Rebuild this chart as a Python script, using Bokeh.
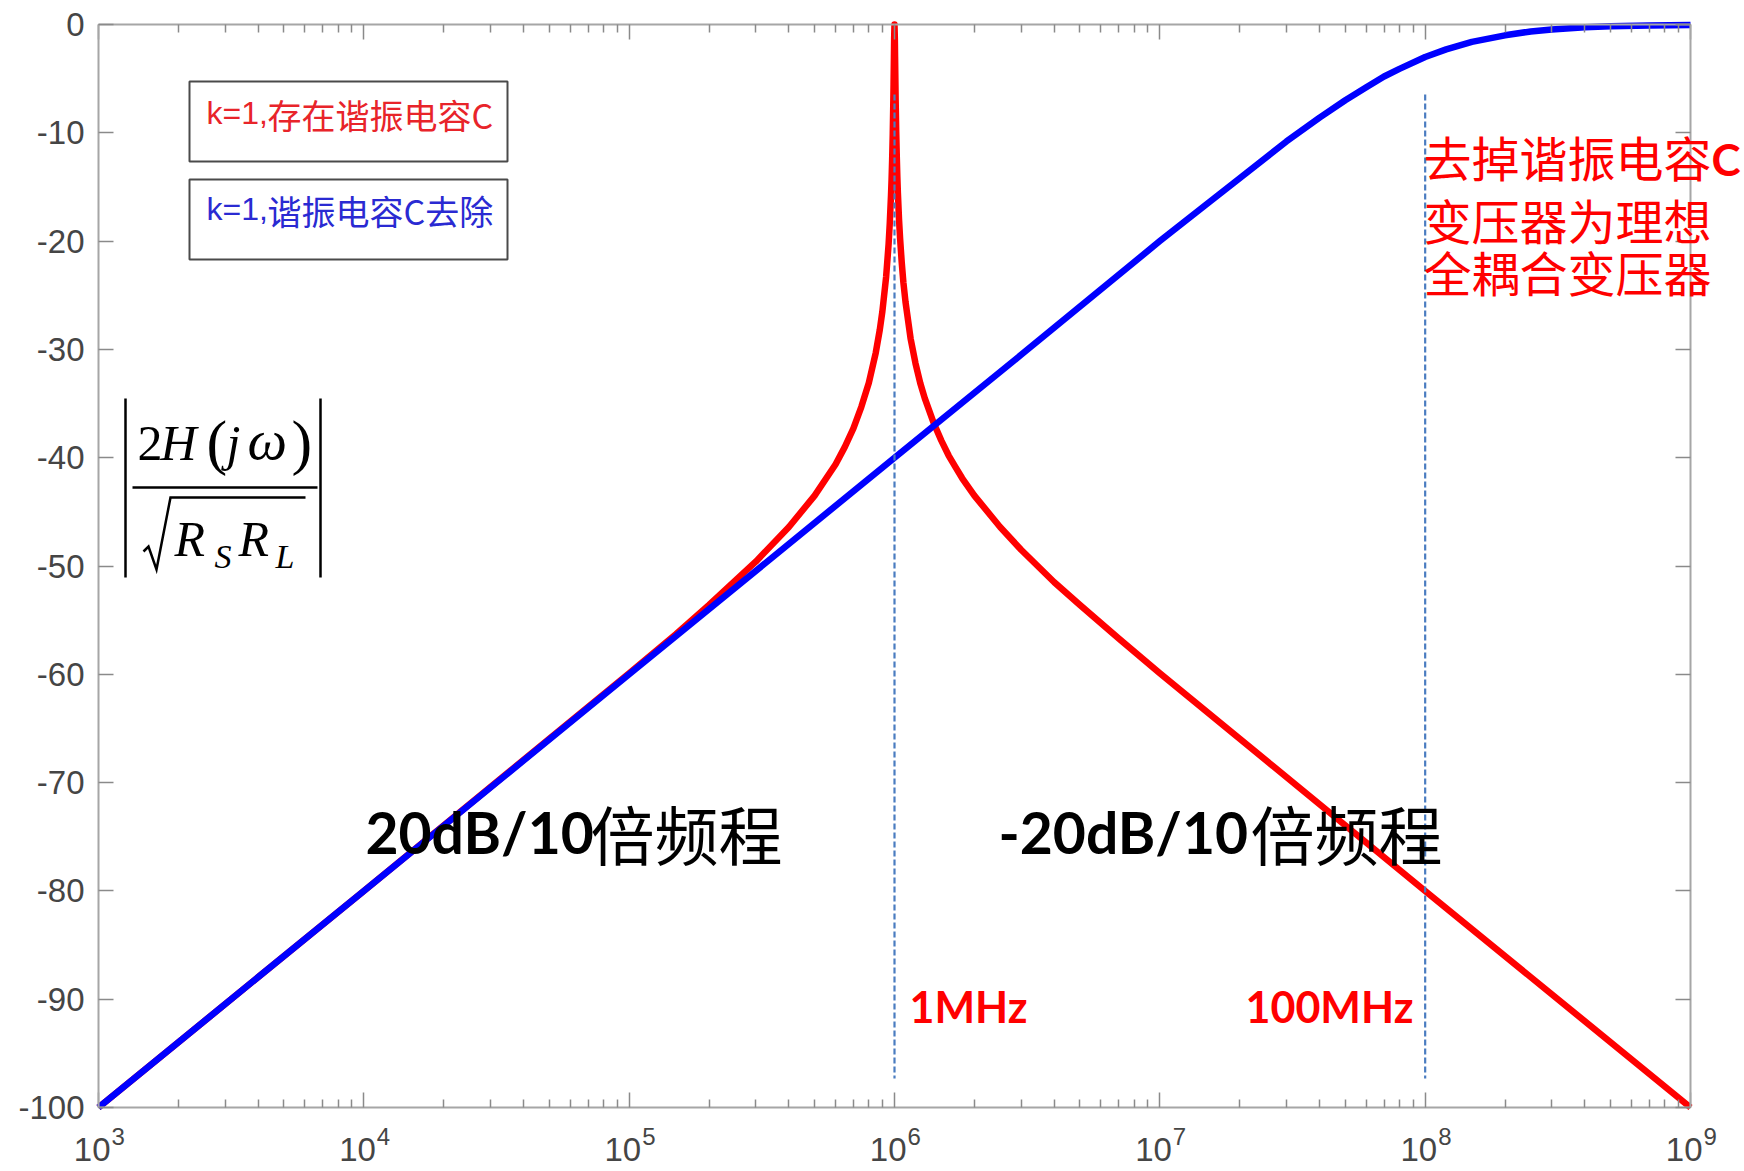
from bokeh.plotting import figure
from bokeh.models import Label, LogAxis, LinearAxis, FixedTicker, Range1d
from bokeh.embed import file_html
from bokeh.resources import INLINE

# |2H(jw)/sqrt(Rs*Rl)| in dB versus frequency (Hz)
# k=1 with the resonant capacitor present
red_freq = [1e3, 1e4, 1e5, 1.5e5, 2e5, 3e5, 4e5, 5e5, 6e5, 6.5e5, 7e5, 7.5e5, 8e5,
            8.5e5, 8.8e5, 9e5, 9.3e5, 9.5e5, 9.6e5, 9.7e5, 9.75e5, 9.8e5, 9.85e5,
            9.9e5, 9.92e5, 9.95e5, 9.97e5, 1e6, 1.003e6, 1.005e6, 1.008e6, 1.01e6,
            1.015e6, 1.02e6, 1.025e6, 1.03e6, 1.04e6, 1.05e6, 1.065e6, 1.08e6,
            1.1e6, 1.15e6, 1.2e6, 1.25e6, 1.3e6, 1.4e6, 1.5e6, 1.6e6, 1.7e6,
            1.8e6, 2e6, 2.5e6, 3e6, 4e6, 5e6, 7e6, 1e7, 1e8, 1e9]
red_db = [-100.0, -80.0, -59.9, -56.3, -53.6, -49.6, -46.4, -43.5, -40.6, -39.0,
          -37.3, -35.3, -33.1, -30.3, -28.2, -26.5, -23.3, -20.3, -18.3, -15.8,
          -14.3, -12.4, -10.1, -7.0, -5.5, -3.0, -1.3, 0.0, -1.3, -3.0, -5.5,
          -7.0, -9.9, -12.2, -14.1, -15.6, -18.0, -19.8, -22.0, -23.8, -25.6,
          -29.0, -31.3, -33.1, -34.5, -36.7, -38.4, -39.8, -40.9, -41.9, -43.5,
          -46.4, -48.5, -51.5, -53.6, -56.7, -59.9, -80.0, -100.0]

# k=1 with the resonant capacitor removed
blue_freq = [1e3, 1e4, 1e5, 1e6, 3e6, 1e7, 1.5e7, 2e7, 3e7, 4e7, 5e7, 6e7, 7e7,
             8e7, 1e8, 1.2e8, 1.5e8, 2e8, 2.5e8, 3e8, 4e8, 5e8, 7e8, 1e9]
blue_db = [-100.0, -80.0, -60.0, -40.0, -30.5, -20.0, -16.6, -14.2, -10.8, -8.6,
           -7.0, -5.8, -4.8, -4.1, -3.0, -2.3, -1.6, -1.0, -0.64, -0.46, -0.26,
           -0.17, -0.09, -0.04]

marker_freq = [1e6, 1e8]
marker_text = ["1MHz", "100MHz"]
y_ticks = list(range(-100, 1, 10))
x_decades = [3, 4, 5, 6, 7, 8, 9]
legend_lead = ["k=1,", "k=1,"]
legend_rest = ["存在谐振电容C", "谐振电容C去除"]
legend_color = ["#e8242a", "#2a2ad2"]
note_lines = ["去掉谐振电容", "变压器为理想", "全耦合变压器"]
slope_text = [("20dB/10", "倍频程"), ("-20dB/10", "倍频程")]

W, H = 1744, 1171
FL, FR, FT, FB = 98, 1690, 24, 1107   # axes box edges in page pixels


def px_x(px):
    return 10 ** (3 + 6 * (px - FL) / (FR - FL))


def px_y(py):
    return -100 * (py - FT) / (FB - FT)


# the drawing frame spans the whole page; the axes sit inside it
p = figure(width=W, height=H, x_axis_type="log",
           x_range=Range1d(px_x(0), px_x(W)), y_range=Range1d(px_y(H), px_y(0)),
           output_backend="svg", toolbar_location=None,
           min_border_left=0, min_border_right=0,
           min_border_top=0, min_border_bottom=0)
p.grid.visible = False
p.background_fill_color = "white"
p.border_fill_color = "white"
p.outline_line_color = None

x_major = [10 ** d for d in x_decades]
x_minor = [m * 10 ** d for d in x_decades[:-1] for m in range(2, 10)]
AX = "#a6a6a6"
TK = "#8a8a8a"


def style_axis(ax, show_labels=False):
    ax.axis_line_color = AX
    ax.axis_line_width = 2
    ax.major_tick_line_color = TK
    ax.major_tick_line_width = 1.5
    ax.major_tick_in = 15
    ax.major_tick_out = 0
    ax.minor_tick_line_color = TK
    ax.minor_tick_line_width = 1.5
    ax.minor_tick_in = 8
    ax.minor_tick_out = 0
    if not show_labels:
        ax.major_label_text_font_size = "6px"
        ax.major_label_text_alpha = 0
        ax.major_label_standoff = 0


xb = p.xaxis[0]
xb.ticker = FixedTicker(ticks=x_major, minor_ticks=x_minor)
xb.fixed_location = -100
xb.bounds = (1e3, 1e9)
style_axis(xb)

yl = p.yaxis[0]
yl.ticker = FixedTicker(ticks=y_ticks)
yl.fixed_location = 1e3
yl.bounds = (-100, 0)
style_axis(yl, show_labels=True)
yl.major_label_overrides = {v: str(v) for v in y_ticks}
yl.major_label_text_font = "Liberation Sans"
yl.major_label_text_font_size = "33px"
yl.major_label_text_color = "#454545"
yl.major_label_standoff = 14

xt = LogAxis(ticker=FixedTicker(ticks=x_major, minor_ticks=x_minor),
             fixed_location=0, bounds=(1e3, 1e9))
style_axis(xt)
p.add_layout(xt, "above")

yr = LinearAxis(ticker=FixedTicker(ticks=y_ticks), fixed_location=1e9,
                bounds=(-100, 0))
style_axis(yr)
p.add_layout(yr, "right")


def label(text, xp, base, size, color="black", font="Liberation Sans",
          style="normal", **kw):
    # place text by its left edge and baseline, in page pixels
    p.add_layout(Label(x=px_x(xp), y=px_y(base - 0.47 * size), text=text,
                       text_font=font, text_font_style=style,
                       text_font_size=f"{size}px", text_color=color,
                       text_baseline="alphabetic", **kw))


# x tick labels as 10 with a raised exponent
for d in x_decades:
    p.add_layout(Label(x=10 ** d, y=px_y(1165 - 0.47 * 33), x_offset=12,
                       text="10", text_align="right", text_baseline="alphabetic",
                       text_font="Liberation Sans", text_font_size="33px",
                       text_color="#454545"))
    p.add_layout(Label(x=10 ** d, y=px_y(1147 - 0.47 * 24), x_offset=13,
                       text=str(d), text_align="left", text_baseline="alphabetic",
                       text_font="Liberation Sans", text_font_size="24px",
                       text_color="#454545"))

# response curves
p.line(red_freq, red_db, line_color="#ff0000", line_width=6.5, line_join="round")
p.line(blue_freq, blue_db, line_color="#0000ff", line_width=6.5, line_join="round")

# frequency markers
p.segment(x0=marker_freq, x1=marker_freq, y0=[px_y(94)] * 2, y1=[px_y(1078)] * 2,
          line_color="#4a7cc0", line_width=2.2, line_dash="6 3")
for t, xp in zip(marker_text, [909, 1245]):
    label(t, xp, 1026, 43, color="#ff0000", font="Lato", style="bold")

# legend boxes
box_top = [81, 179]
box_bot = [161, 259]
p.quad(left=[px_x(189)] * 2, right=[px_x(507)] * 2,
       top=[px_y(v) for v in box_top], bottom=[px_y(v) for v in box_bot],
       fill_color="white", line_color="#4a4a4a", line_width=2)
for lead, rest, c, base in zip(legend_lead, legend_rest, legend_color, [128, 224]):
    label(lead, 206, base, 32, color=c)
    label(rest, 267, base + 2, 34, color=c, font="Noto Sans CJK SC")

# slope annotations
for (num, cjk), xn, xc in zip(slope_text, [365, 998], [590, 1250]):
    label(num, xn, 858, 57, font="Lato", style="bold")
    label(cjk, xc, 862, 64, font="Noto Sans CJK SC")

# note beside the 100 MHz marker
for line, base in zip(note_lines, [178, 241, 293]):
    label(line, 1423, base, 48, color="#ff0000", font="Noto Sans CJK SC")
label("C", 1711, 179, 44, color="#ff0000", font="Lato", style="bold")


# magnitude expression |2H(jw) / sqrt(Rs Rl)|
def serif(text, xp, base, size, italic=True):
    label(text, xp, base, size, font="Liberation Serif",
          style="italic" if italic else "normal")


serif("2", 137, 466, 50, italic=False)
serif("H", 160, 466, 50)
serif("(", 206, 471, 62, italic=False)
serif("j", 226, 466, 50)
serif("ω", 247, 466, 56)
serif(")", 291, 471, 62, italic=False)
serif("R", 174, 562, 50)
serif("S", 214, 572, 34)
serif("R", 238, 562, 50)
serif("L", 275, 572, 34)
p.segment(x0=[px_x(132), px_x(125), px_x(320)], x1=[px_x(317), px_x(125), px_x(320)],
          y0=[px_y(487), px_y(398), px_y(398)], y1=[px_y(487), px_y(577), px_y(577)],
          line_color="black", line_width=2.5)
rad_x = [143, 148, 156, 170, 305]
rad_y = [551, 546, 569, 497, 497]
p.line([px_x(v) for v in rad_x], [px_y(v) for v in rad_y],
       line_color="black", line_width=2.5, line_join="miter")

open("out.html", "w").write(file_html(p, INLINE))
